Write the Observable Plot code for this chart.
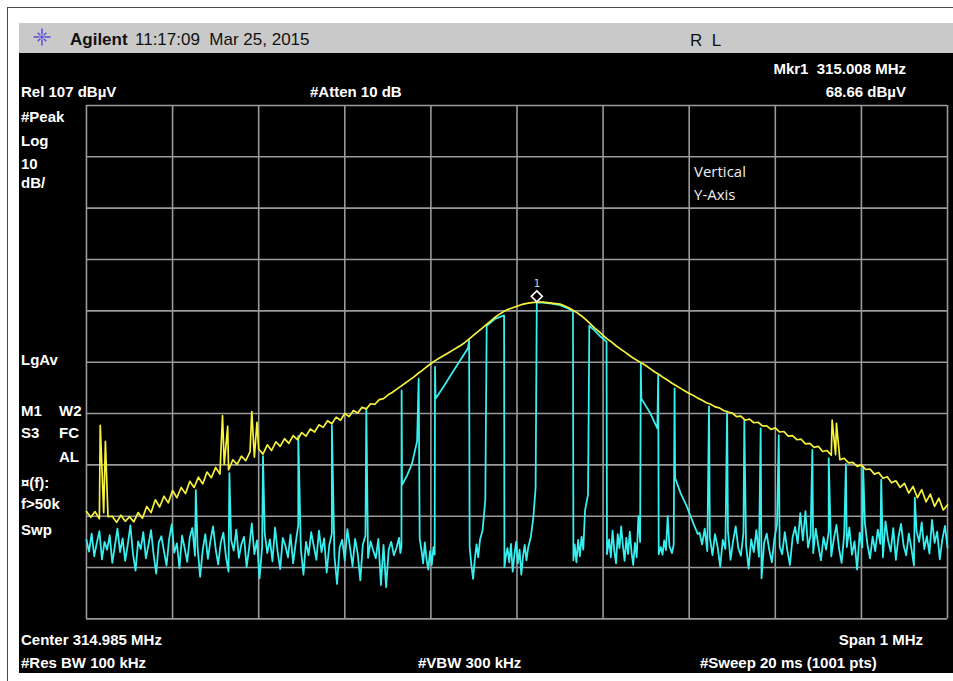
<!DOCTYPE html>
<html>
<head>
<meta charset="utf-8">
<script src="https://cdn.jsdelivr.net/npm/d3@7"></script>
<script src="https://cdn.jsdelivr.net/npm/@observablehq/plot@0.6"></script>
<style>
  html, body { margin: 0; padding: 0; background: #fff; width: 953px; height: 681px; overflow: hidden; }
  #page { position: relative; width: 953px; height: 681px; }
  .rule-h { position: absolute; left: 7px; top: 7px; width: 946px; height: 1px; background: #4a4a4a; }
  .rule-v { position: absolute; left: 7px; top: 7px; width: 1px; height: 674px; background: #4a4a4a; }
  #screen { position: absolute; left: 19px; top: 23px; width: 934px; height: 650px; background: #000; }
  #header { position: absolute; left: 19px; top: 23px; width: 934px; height: 30px; background: #c9c9c9; }
  .lbl { position: absolute; white-space: pre; font-family: "Liberation Sans", Arial, sans-serif;
         font-weight: bold; font-size: 15px; color: #fff; line-height: 1; }
  .hdr { color: #111; font-size: 17px; font-weight: normal; }
  .note { font-family: "Open Sans", sans-serif; font-weight: normal; font-size: 15px; color: #eee; }
  #chart { position: absolute; left: 80px; top: 99px; }
  #logo { position: absolute; left: 31px; top: 27px; }
</style>
</head>
<body>
<div id="page">
  <div class="rule-h"></div>
  <div class="rule-v"></div>
  <div id="screen"></div>
  <div id="header"></div>
  <svg id="logo" width="22" height="20"></svg>
  <div id="chart"></div>
</div>
<script>
// Instrument settings
const centerMHz = 314.985;
const spanMHz = 1;
const refLevelDbuV = 107;
const dbPerDiv = 10;
const divisions = 10;

// Marker 1
const markerMHz = 315.008;
const markerDbuV = 68.66;

// Trace 1 (yellow, max hold): levels in dBµV every 5 kHz from -500 kHz to +500 kHz of center
const yellowStartKHz = -500;
const yellowStepKHz = 5;
const yellowDbuV = [
  27.9, 26.8, 27.9, 26.5, 27.7, 26.9, 27.0, 25.8, 27.2, 26.0,
  26.9, 25.9, 27.7, 26.6, 28.9, 27.7, 30.2, 28.8, 30.9, 29.6,
  32.0, 30.6, 32.6, 31.4, 33.8, 32.6, 34.6, 33.3, 35.6, 34.5,
  36.5, 35.2, 37.1, 36.0, 38.0, 37.1, 38.7, 37.8, 39.6, 38.5,
  40.1, 39.1, 40.9, 39.8, 41.5, 40.6, 42.1, 41.2, 42.7, 41.9,
  43.3, 42.6, 44.0, 43.4, 44.8, 44.3, 45.6, 45.0, 46.3, 45.7,
  47.0, 46.4, 47.6, 47.1, 48.2, 47.9, 48.9, 48.8, 49.7, 49.9,
  50.6, 51.1, 51.7, 52.3, 52.9, 53.5, 54.1, 54.8, 55.4, 56.1,
  56.7, 57.3, 57.8, 58.3, 58.8, 59.3, 59.8, 60.3, 60.9, 61.6,
  62.3, 63.0, 63.7, 64.4, 65.1, 65.8, 66.4, 66.9, 67.3, 67.6,
  67.9, 68.2, 68.4, 68.55, 68.65, 68.7, 68.7, 68.6, 68.5, 68.4,
  68.3, 68.0, 67.6, 67.1, 66.6, 66.0, 65.3, 64.5, 63.7, 63.0,
  62.2, 61.5, 60.9, 60.2, 59.6, 59.0, 58.4, 57.8, 57.3, 56.8,
  56.3, 55.7, 55.1, 54.6, 54.0, 53.5, 52.9, 52.4, 51.9, 51.4,
  50.9, 50.5, 50.0, 49.6, 49.1, 48.8, 48.3, 48.1, 47.6, 47.3,
  47.1, 46.4, 46.5, 45.7, 45.9, 45.2, 45.3, 44.6, 44.6, 43.9,
  44.2, 43.4, 43.5, 42.6, 42.7, 41.9, 42.0, 41.1, 41.2, 40.4,
  40.6, 39.6, 39.8, 38.9, 39.0, 38.0, 38.3, 37.4, 37.5, 36.7,
  37.0, 36.1, 36.2, 35.2, 35.5, 34.4, 34.7, 33.5, 33.9, 32.6,
  33.4, 31.5, 32.8, 30.6, 32.2, 29.8, 31.3, 28.9, 30.5, 28.2,
  29.2
];
// Narrow spurs caught by the max-hold trace: [offset kHz, dBµV]
const yellowSpurs = [
  [-484, 44.7], [-478, 41.6], [-342, 46.6], [-336, 44.5],
  [-308, 47.4], [-302, 45.3], [366, 45.7], [371, 45.1]
];

// Trace 2 (cyan, clear/write): noise floor every 3 kHz below the hopping band
const cyanLeftStartKHz = -500;
const cyanStepKHz = 3;
const cyanNoiseLeft = [
  22.4, 20.1, 23.6, 19.2, 21.8, 24.1, 18.6, 22.0, 20.5, 23.3,
  17.9, 21.2, 24.6, 20.0, 22.7, 18.3, 21.5, 25.2, 19.7, 16.4,
  22.1, 20.6, 23.9, 18.8, 21.4, 24.3, 19.5, 15.8, 21.9, 23.1,
  20.2, 17.4, 22.6, 25.4, 19.9, 21.7, 16.9, 23.2, 20.8, 18.1,
  22.9, 24.7, 19.3, 21.1, 15.2, 20.4, 23.5, 18.7, 22.2, 25.0,
  20.7, 17.6, 21.9, 23.8, 19.1, 16.2, 22.4, 20.3, 24.4, 18.9,
  21.6, 23.0, 17.1, 20.9, 25.6, 19.6, 22.3, 14.9, 21.0, 23.7,
  19.8, 22.5, 18.2, 24.8, 20.1, 16.7, 22.8, 21.3, 19.0, 23.4,
  17.8, 21.8, 25.3, 20.6, 15.6, 22.0, 19.4, 23.9, 21.2, 18.5,
  24.2, 20.0, 22.7, 16.0, 21.4, 23.6, 19.2, 13.8, 20.9, 22.4,
  18.4, 24.5, 21.0, 17.3, 22.6, 19.7, 14.5, 21.5, 23.2, 18.9,
  22.1, 20.3, 18.8, 22.6, 13.6, 21.4, 13.2, 20.5, 22.0, 19.4,
  20.8
];
// ...and above it, every 3 kHz from +212 kHz
const cyanRightStartKHz = 212;
const cyanNoiseRight = [
  23.8, 21.5, 24.6, 20.2, 22.9, 19.4, 23.5, 21.0, 17.2, 22.4,
  20.6, 24.1, 18.5, 22.2, 25.0, 20.8, 19.3, 23.7, 21.4, 16.8,
  22.5, 20.0, 24.3, 19.1, 14.9, 21.8, 23.6, 20.4, 18.0, 22.7,
  25.4, 21.1, 19.6, 23.9, 20.3, 17.5, 22.8, 24.9, 21.7, 27.6,
  22.3, 28.0, 20.9, 23.3, 19.8, 24.6, 21.2, 18.4, 22.9, 20.5,
  24.0, 19.2, 22.6, 25.3, 20.7, 17.9, 23.4, 21.0, 24.8, 19.5,
  22.1, 16.6, 23.8, 20.9, 25.7, 21.5, 18.8, 23.0, 20.2, 24.4,
  21.6, 19.0, 26.0, 22.3, 20.1, 24.7, 18.5, 22.9, 25.5, 21.3,
  19.4, 23.6, 20.8, 17.4, 24.2, 22.0, 25.8, 20.6, 23.1, 19.7,
  26.3, 21.8, 24.0, 18.6, 22.5, 25.1, 20.9
];
// Hop channels seen in the outer band: [offset kHz, peak dBµV]
const cyanSpikes = [
  [-373, 32.1], [-334, 35.4], [-295, 38.7], [-254, 42.6], [-215, 44.7], [-175, 48.0],
  [223, 48.4], [244, 47.4], [264, 45.7], [283, 44.1], [304, 42.8], [343, 39.9],
  [362, 38.3], [382, 37.2], [402, 36.6], [423, 34.1], [462, 30.6]
];
// Central part of the sweep, in drawing order: [offset kHz, dBµV]
const cyanCenter = [
  [-137, 22.8], [-135.5, 19.8], [-134.2, 21.0], [-134, 51.5], [-133.5, 33.1], [-128, 34.8], [-122, 37.2], [-116, 41.6], [-114.2, 53.8], [-113, 22.6],
  [-111, 20.5], [-109, 17.8], [-107, 21.9], [-105, 18.5], [-103, 16.6], [-101, 20.2], [-99, 17.5], [-97, 21.0], [-95.6, 19.5], [-95.2, 56.1],
  [-94.6, 49.9], [-85, 52.3], [-75, 55.0], [-65, 57.6], [-57, 59.7], [-55.6, 61.2], [-55, 21.0], [-53, 17.5], [-51, 14.8], [-49, 18.6],
  [-47, 21.5], [-45, 19.0], [-43, 22.4], [-40, 24.2], [-36.8, 30.2], [-35.2, 64.1], [-25, 65.5], [-15, 66.1], [-14.6, 17.1], [-13, 19.2],
  [-11, 20.8], [-9, 18.0], [-7, 21.6], [-5, 16.2], [-3, 19.5], [-1, 22.0], [1, 17.8], [3, 20.5], [5, 15.6], [7, 19.2],
  [9, 21.4], [11, 18.4], [13, 20.9], [16, 22.9], [19, 26.8], [21.6, 32.5], [23, 68.66], [30, 68.6], [40, 68.4], [50, 68.1],
  [60, 67.4], [65, 66.9], [65.5, 18.4], [67, 21.5], [69, 18.0], [71, 22.4], [73, 19.2], [75, 23.0], [77, 20.5], [79, 28.1],
  [82.5, 31.2], [84, 64.1], [90, 63.2], [97, 62.0], [104, 61.0], [104.5, 19.6], [107, 22.5], [109, 19.0], [111, 24.2], [113, 20.3],
  [115, 17.8], [117, 23.5], [119, 20.8], [121, 25.0], [123, 21.2], [125, 18.3], [127, 22.8], [129, 19.6], [131, 24.0], [133, 20.0],
  [135, 17.5], [137, 21.8], [139, 19.0], [141, 27.0], [143, 22.0], [143.8, 56.7], [144.4, 49.9], [155, 47.0], [163, 44.1], [164, 54.4],
  [164.6, 19.6], [167, 21.0], [169, 19.5], [171, 22.3], [173, 20.4], [175, 27.0], [177, 21.2], [180, 19.8], [182, 21.5], [183, 51.9],
  [183.6, 34.5], [190, 31.5], [197, 29.0], [205, 25.5], [210, 23.5]
];

// Screen annotations
const headerBrand = "Agilent";
const headerTime = "11:17:09  Mar 25, 2015";
const headerStatus = "R  L";
const refText = "Rel 107 dB\u00b5V";
const attenText = "#Atten 10 dB";
const mkrFreqText = "Mkr1  315.008 MHz";
const mkrLevelText = "68.66 dB\u00b5V";
const sideLabels = ["#Peak", "Log", "10", "dB/", "LgAv", "M1", "S3", "\u00a4(f):", "f>50k", "Swp"];
const sideLabels2 = ["W2", "FC", "AL"];
const noteLines = ["Vertical", "Y-Axis"];
const centerText = "Center 314.985 MHz";
const spanText = "Span 1 MHz";
const rbwText = "#Res BW 100 kHz";
const vbwText = "#VBW 300 kHz";
const sweepText = "#Sweep 20 ms (1001 pts)";

// ---------- build traces ----------
const toMHz = k => centerMHz + k / 1000;

const yellowPts = d3.sort(
  yellowDbuV.map((v, i) => ({k: yellowStartKHz + i * yellowStepKHz, db: v}))
    .concat(yellowSpurs.map(([k, db]) => ({k, db}))),
  d => d.k
).map(d => ({mhz: toMHz(d.k), db: d.db}));

function noiseWithSpikes(start, values, lo, hi) {
  const pts = values.map((v, i) => ({k: start + i * cyanStepKHz, db: v}));
  const spikes = cyanSpikes.filter(([k]) => k >= lo && k <= hi).map(([k, db]) => ({k, db}));
  return d3.sort(pts.concat(spikes), d => d.k);
}
const leftEnd = cyanLeftStartKHz + (cyanNoiseLeft.length - 1) * cyanStepKHz;
const rightEnd = cyanRightStartKHz + (cyanNoiseRight.length - 1) * cyanStepKHz;
const cyanPts = [
  ...noiseWithSpikes(cyanLeftStartKHz, cyanNoiseLeft, cyanLeftStartKHz, leftEnd),
  ...cyanCenter.map(([k, db]) => ({k, db})),
  ...noiseWithSpikes(cyanRightStartKHz, cyanNoiseRight, cyanRightStartKHz, rightEnd)
].map(d => ({mhz: toMHz(d.k), db: d.db}));

const xDomain = [centerMHz - spanMHz / 2, centerMHz + spanMHz / 2];
const yDomain = [refLevelDbuV - divisions * dbPerDiv, refLevelDbuV];
const xGrid = d3.range(divisions + 1).map(i => xDomain[0] + i * spanMHz / divisions);
const yGrid = d3.range(divisions + 1).map(i => yDomain[0] + i * dbPerDiv);

const gridColor = "#9a9a9a";
const chart = Plot.plot({
  width: 879,
  height: 529,
  marginLeft: 6, marginRight: 6, marginTop: 6, marginBottom: 6,
  style: {background: "transparent", overflow: "visible"},
  x: {domain: xDomain, axis: null},
  y: {domain: yDomain, axis: null},
  marks: [
    Plot.ruleX(xGrid, {stroke: gridColor, strokeWidth: 1.6}),
    Plot.ruleY(yGrid, {stroke: gridColor, strokeWidth: 1.6}),
    Plot.line(cyanPts, {x: "mhz", y: "db", stroke: "#38eeee", strokeWidth: 1.8}),
    Plot.line(yellowPts, {x: "mhz", y: "db", stroke: "#f7f23a", strokeWidth: 1.7}),
    Plot.dot([{mhz: markerMHz, db: markerDbuV}], {x: "mhz", y: "db", symbol: "diamond2", r: 5,
      stroke: "#fff", strokeWidth: 1.6, fill: "none", dy: -6}),
    Plot.text([{mhz: markerMHz, db: markerDbuV}], {x: "mhz", y: "db", text: () => "1", dy: -19,
      fill: "#d0d0d0", fontSize: 11, fontFamily: "DejaVu Sans Mono"})
  ]
});
document.getElementById("chart").appendChild(chart);

// ---------- screen text ----------
const page = document.getElementById("page");
function label(text, x, baseline, opts = {}) {
  const el = document.createElement("div");
  el.className = "lbl" + (opts.cls ? " " + opts.cls : "");
  el.textContent = text;
  const fs = opts.size || 15;
  el.style.fontSize = fs + "px";
  el.style.top = (baseline - 0.85 * fs) + "px";
  if (opts.right) el.style.right = (953 - x) + "px"; else el.style.left = x + "px";
  page.appendChild(el);
}
label(headerBrand, 70, 45, {cls: "hdr", size: 17});
page.lastChild.style.fontWeight = "bold";
label(headerTime, 135, 45, {cls: "hdr", size: 17});
label(headerStatus, 690, 46, {cls: "hdr", size: 17});

label(refText, 21, 97);
label(attenText, 310, 97);
label(mkrFreqText, 906, 74, {right: true});
label(mkrLevelText, 906, 97, {right: true});

const sideBaselines = [122, 146, 169, 188, 365, 416, 438, 488, 509, 535];
sideLabels.forEach((t, i) => label(t, 21, sideBaselines[i]));
const side2Baselines = [416, 438, 462];
sideLabels2.forEach((t, i) => label(t, 59, side2Baselines[i]));

noteLines.forEach((t, i) => label(t, 694, 177 + i * 23, {cls: "note"}));

label(centerText, 21, 645);
label(spanText, 923, 645, {right: true});
label(rbwText, 21, 668);
label(vbwText, 418, 668);
label(sweepText, 700, 668);

// Brand starburst in the header
const logo = d3.select("#logo");
const cx = 11, cy = 10;
d3.range(8).forEach(i => {
  const a = i * Math.PI / 4;
  const r0 = 2.5, r1 = i % 2 ? 6 : 8.5;
  logo.append("line")
    .attr("x1", cx + r0 * Math.cos(a)).attr("y1", cy + r0 * Math.sin(a))
    .attr("x2", cx + r1 * Math.cos(a)).attr("y2", cy + r1 * Math.sin(a))
    .attr("stroke", "#5b55d6").attr("stroke-width", 1.6);
});
logo.append("circle").attr("cx", cx).attr("cy", cy).attr("r", 1.8).attr("fill", "#5b55d6");
</script>
</body>
</html>
